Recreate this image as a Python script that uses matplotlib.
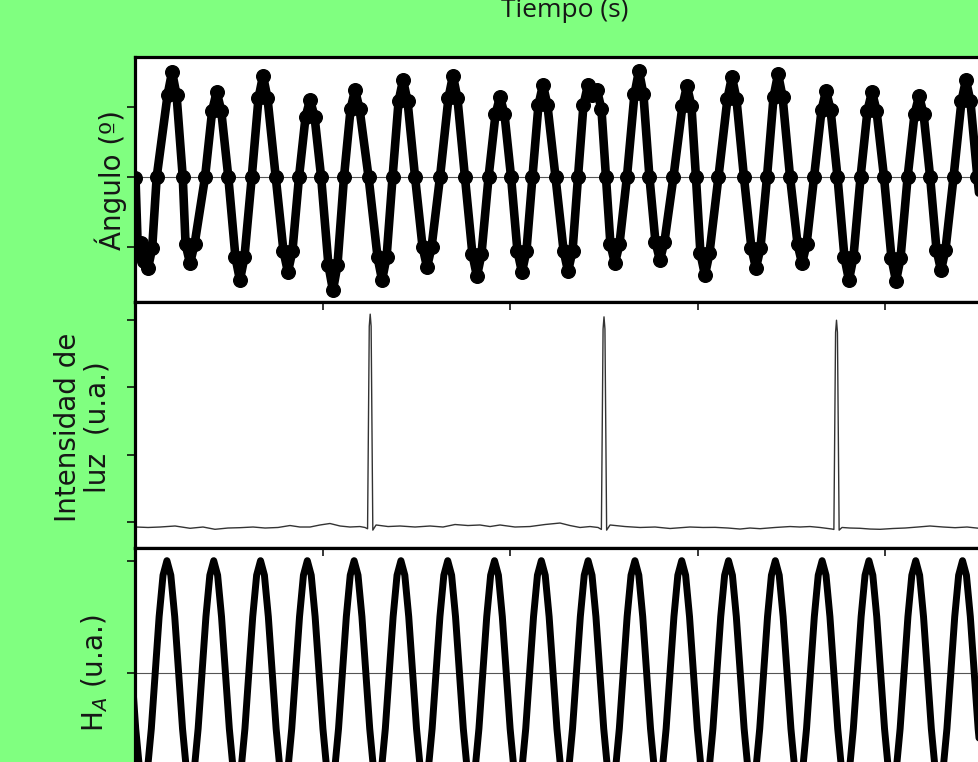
import numpy as np
import matplotlib
matplotlib.use("Agg")
import matplotlib.pyplot as plt

# ---------------- data ----------------
# Panel 1: pendulum angle (deg): extrema, shoulders and zero crossings
ang_t = [0.000, 0.013, 0.029, 0.045, 0.067, 0.089, 0.113,
         0.171, 0.195, 0.219, 0.252, 0.267, 0.291, 0.315, 0.371,
         0.409, 0.433, 0.457, 0.495, 0.533, 0.557, 0.581, 0.620,
         0.656, 0.680, 0.704, 0.748, 0.789, 0.813, 0.837, 0.872,
         0.907, 0.931, 0.955, 0.990, 1.029, 1.053, 1.077, 1.112,
         1.147, 1.171, 1.195, 1.243, 1.291, 1.315, 1.339, 1.371,
         1.403, 1.427, 1.451, 1.491, 1.531, 1.555, 1.579, 1.624,
         1.669, 1.693, 1.717, 1.757, 1.797, 1.821, 1.845, 1.883,
         1.920, 1.944, 1.968, 2.003, 2.037, 2.061, 2.085, 2.117,
         2.149, 2.173, 2.197, 2.240, 2.283, 2.307, 2.331, 2.360,
         2.389, 2.413, 2.437, 2.461, 2.485, 2.509, 2.533, 2.557, 2.581, 2.621,
         2.661, 2.685, 2.709, 2.741, 2.773, 2.797, 2.821, 2.869,
         2.917, 2.941, 2.965, 2.989, 3.013, 3.037, 3.061, 3.109,
         3.157, 3.181, 3.205, 3.245, 3.285, 3.309, 3.333, 3.368,
         3.403, 3.427, 3.451, 3.491, 3.531, 3.555, 3.579, 3.619,
         3.659, 3.683, 3.707, 3.744, 3.781, 3.805, 3.829, 3.867,
         3.904, 3.928, 3.952, 3.992, 4.032, 4.056, 4.080, 4.118,
         4.155, 4.179, 4.203, 4.238, 4.272, 4.296, 4.320, 4.363,
         4.405, 4.429, 4.453, 4.490, 4.531, 4.555, 4.579, 4.620]
ang_v = [-0.3, -21.7, -18.9, -24.0, -26.0, -20.3, 0.0,
         23.4, 30.0, 23.4, 0.0, -19.2, -24.6, -19.2, 0.0,
         19.0, 24.3, 19.0, 0.0, -22.9, -29.4, -22.9, 0.0,
         22.5, 28.9, 22.5, 0.0, -21.1, -27.1, -21.1, 0.0,
         17.2, 22.0, 17.2, 0.0, -25.2, -32.3, -25.2, 0.0,
         19.4, 24.9, 19.4, 0.0, -22.9, -29.4, -22.9, 0.0,
         21.6, 27.7, 21.6, 0.0, -20.0, -25.7, -20.0, 0.0,
         22.5, 28.9, 22.5, 0.0, -22.1, -28.3, -22.1, 0.0,
         17.9, 22.9, 17.9, 0.0, -21.1, -27.1, -21.1, 0.0,
         20.5, 26.3, 20.5, 0.0, -21.0, -26.9, -21.0, 0.0,
         20.5, 26.3, 23.5, 24.9, 19.4, 0.0, -19.2, -24.6, -19.2, 0.0,
         23.6, 30.3, 23.6, 0.0, -18.5, -23.7, -18.5, 0.0,
         20.3, 26.0, 20.3, 0.0, -21.8, -28.0, -21.8, 0.0,
         22.3, 28.6, 22.3, 0.0, -20.3, -26.0, -20.3, 0.0,
         22.9, 29.4, 22.9, 0.0, -19.2, -24.6, -19.2, 0.0,
         19.2, 24.6, 19.2, 0.0, -22.9, -29.4, -22.9, 0.0,
         19.0, 24.3, 19.0, 0.0, -23.2, -29.7, -23.2, 0.0,
         18.0, 23.1, 18.0, 0.0, -20.7, -26.6, -20.7, 0.0,
         21.6, 27.7, 21.6, 0.0, -21.1, -27.0, -21.1, 0.0]

# Panel 2: light intensity (a.u.)
int_t = [0.003, 0.067, 0.131, 0.211, 0.291, 0.360, 0.424, 0.493, 0.557, 0.627,
         0.691, 0.760, 0.824, 0.877, 0.931, 0.984, 1.037, 1.091, 1.144, 1.197,
         1.224, 1.2377, 1.2467, 1.2517, 1.2567, 1.2657,
         1.283, 1.347, 1.411, 1.491, 1.571, 1.640, 1.704, 1.773, 1.837, 1.891,
         1.944, 2.024, 2.104, 2.184, 2.264, 2.317, 2.371, 2.424, 2.467,
         2.4847, 2.4937, 2.4987, 2.5037, 2.5127,
         2.531, 2.611, 2.691, 2.771, 2.851, 2.957, 3.027, 3.091, 3.160, 3.224,
         3.277, 3.331, 3.411, 3.491, 3.544, 3.597, 3.651, 3.715,
         3.7247, 3.7337, 3.7387, 3.7437, 3.7527,
         3.768, 3.811, 3.864, 3.917, 3.971, 4.040, 4.104, 4.173, 4.237, 4.307,
         4.371, 4.435, 4.499, 4.557]
int_v = [-0.074, -0.081, -0.074, -0.059, -0.093, -0.074, -0.108, -0.089, -0.084, -0.074,
         -0.089, -0.081, -0.052, -0.074, -0.074, -0.044, -0.022, -0.059, -0.074, -0.067,
         -0.081, -0.100, 2.90, 3.08, 2.90, -0.120,
         -0.044, -0.067, -0.059, -0.074, -0.059, -0.074, -0.037, -0.052, -0.044, -0.067,
         -0.044, -0.074, -0.067, -0.037, -0.015, -0.052, -0.081, -0.067, -0.081,
         -0.110, 2.86, 3.04, 2.86, -0.120,
         -0.044, -0.067, -0.081, -0.074, -0.096, -0.074, -0.081, -0.079, -0.089, -0.104,
         -0.089, -0.099, -0.081, -0.067, -0.074, -0.067, -0.081, -0.104,
         -0.110, 2.81, 2.99, 2.81, -0.120,
         -0.081, -0.089, -0.093, -0.104, -0.108, -0.096, -0.089, -0.074, -0.059, -0.074,
         -0.084, -0.074, -0.093, -0.081]

# Panel 3: H_A (a.u.), uniformly sampled, 12 samples per cycle
ha_t0 = -0.082
ha_dt = 0.0208
ha_v = [
    1.00, 0.87, 0.50, 0.00, -0.50, -0.87, -1.00, -0.87, -0.50, 0.00, 0.50, 0.87,
    1.00, 0.87, 0.50, 0.00, -0.50, -0.87, -1.00, -0.87, -0.50, 0.00, 0.50, 0.87,
    1.00, 0.87, 0.50, 0.00, -0.50, -0.87, -1.00, -0.87, -0.50, 0.00, 0.50, 0.87,
    1.00, 0.87, 0.50, 0.00, -0.50, -0.87, -1.00, -0.87, -0.50, 0.00, 0.50, 0.87,
    1.00, 0.87, 0.50, 0.00, -0.50, -0.87, -1.00, -0.87, -0.50, 0.00, 0.50, 0.87,
    1.00, 0.87, 0.50, 0.00, -0.50, -0.87, -1.00, -0.87, -0.50, 0.00, 0.50, 0.87,
    1.00, 0.87, 0.50, 0.00, -0.50, -0.87, -1.00, -0.87, -0.50, 0.00, 0.50, 0.87,
    1.00, 0.87, 0.50, 0.00, -0.50, -0.87, -1.00, -0.87, -0.50, 0.00, 0.50, 0.87,
    1.00, 0.87, 0.50, 0.00, -0.50, -0.87, -1.00, -0.87, -0.50, 0.00, 0.50, 0.87,
    1.00, 0.87, 0.50, 0.00, -0.50, -0.87, -1.00, -0.87, -0.50, 0.00, 0.50, 0.87,
    1.00, 0.87, 0.50, 0.00, -0.50, -0.87, -1.00, -0.87, -0.50, 0.00, 0.50, 0.87,
    1.00, 0.87, 0.50, 0.00, -0.50, -0.87, -1.00, -0.87, -0.50, 0.00, 0.50, 0.87,
    1.00, 0.87, 0.50, 0.00, -0.50, -0.87, -1.00, -0.87, -0.50, 0.00, 0.50, 0.87,
    1.00, 0.87, 0.50, 0.00, -0.50, -0.87, -1.00, -0.87, -0.50, 0.00, 0.50, 0.87,
    1.00, 0.87, 0.50, 0.00, -0.50, -0.87, -1.00, -0.87, -0.50, 0.00, 0.50, 0.87,
    1.00, 0.87, 0.50, 0.00, -0.50, -0.87, -1.00, -0.87, -0.50, 0.00, 0.50, 0.87,
    1.00, 0.87, 0.50, 0.00, -0.50, -0.87, -1.00, -0.87, -0.50, 0.00, 0.50, 0.87,
    1.00, 0.87, 0.50, 0.00, -0.50, -0.87, -1.00, -0.87, -0.50, 0.00, 0.50, 0.87,
    1.00, 0.87, 0.50, 0.00, -0.50, -0.87, -1.00, -0.87, -0.50, 0.00, 0.50, 0.87,
]
ha_t = ha_t0 + ha_dt * np.arange(len(ha_v))

xticks = [0, 1, 2, 3, 4]
ang_yticks = [-20, 0, 20]
int_yticks = [0, 1, 2, 3]
ha_yticks = [-1, 0, 1]

x_label = "Tiempo (s)"
y_labels = ["Ángulo (º)", "Intensidad de\nluz  (u.a.)", r"H$_A$ (u.a.)"]

# ---------------- figure ----------------
W, H = 979, 762
fig = plt.figure(figsize=(W / 100, H / 100), dpi=100)
fig.patch.set_facecolor("#80ff80")

def fx(px):
    return px / W

def fy(py):
    return 1 - py / H

left = fx(135.5)
width = 4.6 * 187.5 / W
ax1 = fig.add_axes([left, fy(302), width, (302 - 57) / H])
ax2 = fig.add_axes([left, fy(548), width, (548 - 302) / H])
ax3 = fig.add_axes([left, fy(794), width, (794 - 548) / H])

txtc = "#161616"

ax1.axhline(0, color="#555555", lw=0.8, zorder=1)
ax1.plot(ang_t, ang_v, color="black", lw=6.2, marker="o", ms=9.8,
         solid_joinstyle="round", solid_capstyle="round", zorder=2)
ax1.set_ylim(-35.7, 34.3)

ax2.plot(int_t, int_v, color="#333333", lw=1.0, zorder=2)
ax2.set_ylim(-0.385, 3.26)

ax3.axhline(0, color="#555555", lw=0.8, zorder=1)
ax3.plot(ha_t, ha_v, color="black", lw=5.0, solid_joinstyle="round",
         solid_capstyle="round", zorder=2)
ax3.set_ylim(-1.083, 1.113)

for ax, yt in zip([ax1, ax2, ax3], [ang_yticks, int_yticks, ha_yticks]):
    ax.set_xlim(0, 4.6)
    ax.set_facecolor("white")
    ax.set_yticks(yt)
    ax.set_xticks(xticks)
    ax.tick_params(axis="y", direction="out", length=6, width=1.1,
                   labelleft=False, left=True, color="black")
    for s in ax.spines.values():
        s.set_linewidth(2.3)
        s.set_color("black")
        s.set_zorder(3)

ax1.tick_params(axis="x", bottom=False, top=False, labelbottom=False)
for ax in (ax2, ax3):
    ax.tick_params(axis="x", bottom=False, top=True, direction="in",
                   length=6, width=1.1, labelbottom=False, labeltop=False)

fig.text(fx(565), fy(17), x_label, ha="center", va="baseline",
         fontsize=19, family="Open Sans", color=txtc)
fig.text(fx(111), fy(180), y_labels[0], rotation=90, ha="center", va="center",
         fontsize=20, family="DejaVu Sans", color=txtc)
fig.text(fx(83), fy(427), y_labels[1], rotation=90, ha="center", va="center",
         fontsize=20, family="DejaVu Sans", color=txtc, linespacing=1.05,
         multialignment="center")
fig.text(fx(95), fy(673), y_labels[2], rotation=90, ha="center", va="center",
         fontsize=20, family="DejaVu Sans", color=txtc)

fig.savefig("out.png", dpi=100, facecolor=fig.get_facecolor())
